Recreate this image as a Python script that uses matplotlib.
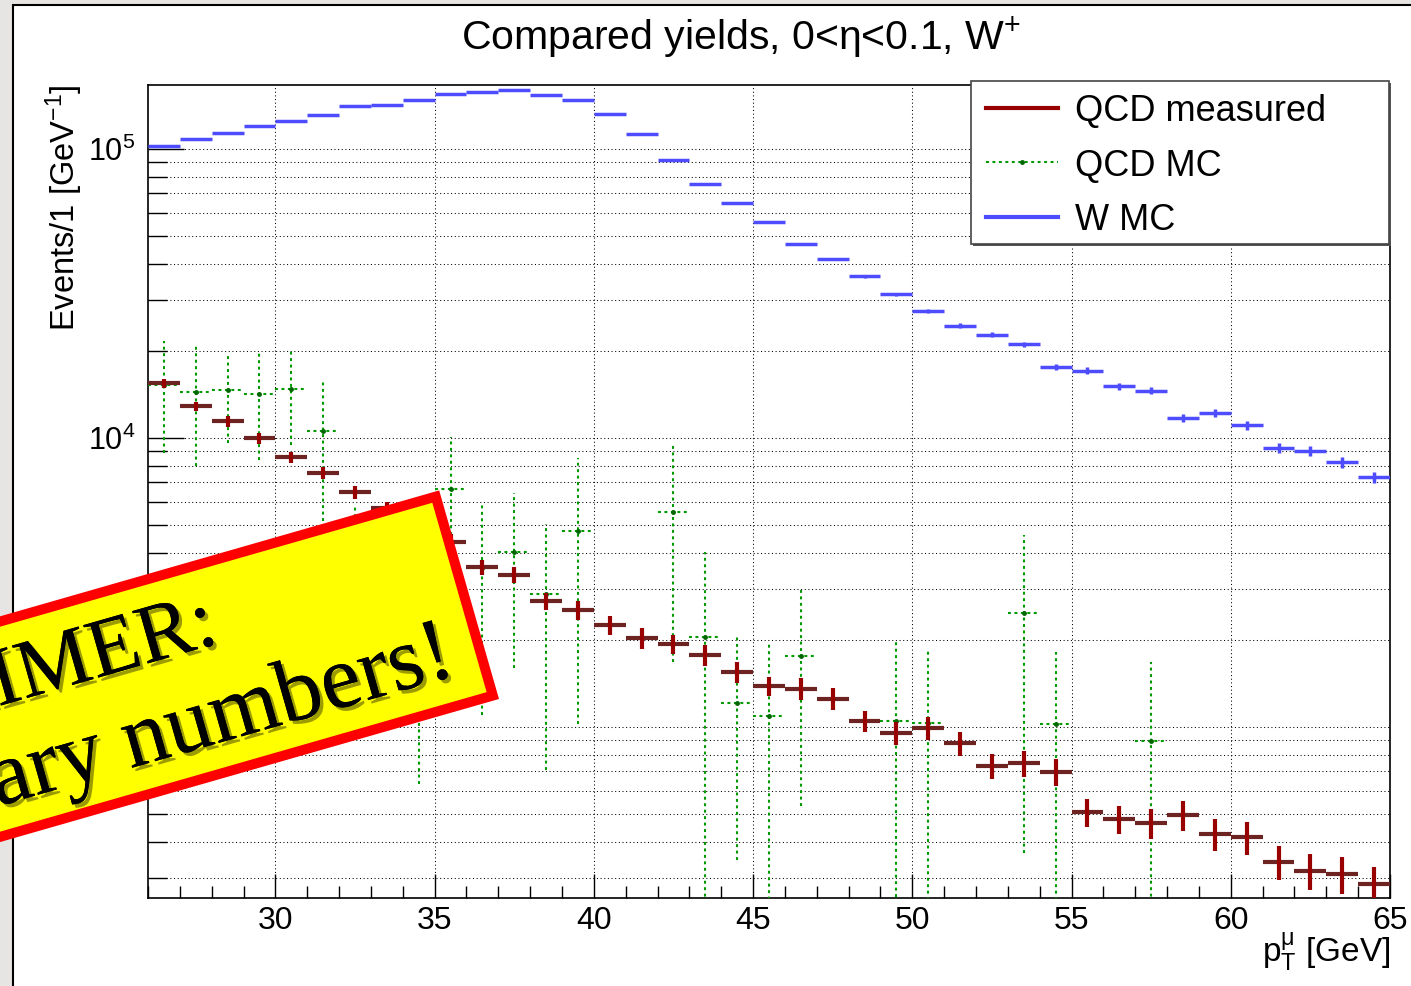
import matplotlib

matplotlib.use("Agg")
import matplotlib.patheffects as pe
import matplotlib.pyplot as plt
import numpy as np
from matplotlib.lines import Line2D
from matplotlib.patches import Rectangle
from matplotlib.ticker import LogLocator, MultipleLocator, NullFormatter
from matplotlib.transforms import Affine2D

# ============================================================================
# Data (bin centres in GeV, 1 GeV bins)
# ============================================================================

pt_centers = [
    26.5, 27.5, 28.5, 29.5, 30.5, 31.5, 32.5, 33.5, 34.5, 35.5,
    36.5, 37.5, 38.5, 39.5, 40.5, 41.5, 42.5, 43.5, 44.5, 45.5,
    46.5, 47.5, 48.5, 49.5, 50.5, 51.5, 52.5, 53.5, 54.5, 55.5,
    56.5, 57.5, 58.5, 59.5, 60.5, 61.5, 62.5, 63.5, 64.5,
]

qcd_measured = [
    15440, 12850, 11370, 9955, 8550, 7530, 6470, 5690, 4950, 4360,
    3554, 3345, 2716, 2527, 2249, 2023, 1923, 1766, 1545, 1378,
    1353, 1248, 1044, 948, 990, 876, 730, 747, 695, 505,
    478, 463, 495, 425, 414, 341, 317, 309, 285,
]
qcd_measured_err = [
    539, 470, 482, 447, 369, 370, 318, 303, 285, 269,
    213, 212, 184, 184, 173, 163, 143, 144, 126, 106,
    115, 109, 89, 87, 93, 84, 73, 76, 74, 57,
    54, 56, 59, 55, 54, 46, 45, 45, 41,
]

nan = np.nan
qcd_mc = [
    15190, 14400, 14550, 14150, 14720, 10550, 3700, 3500, 2800, 6620,
    3525, 4020, 2865, 4760, nan, nan, 5530, 2040, 1205, 1090,
    1750, nan, nan, 1047, 1031, nan, nan, 2475, 1019, nan,
    nan, 893, nan, nan, nan, nan, nan, nan, nan,
]
qcd_mc_err = [
    6360, 6450, 4990, 5780, 5300, 5390, 2150, 2500, 2165, 3410,
    2430, 2420, 2160, 3740, nan, nan, 3860, 1985, 860, 850,
    1220, nan, nan, 915, 805, nan, nan, 2110, 792, nan,
    nan, 780, nan, nan, nan, nan, nan, nan, nan,
]

w_mc = [
    102100, 107700, 113600, 119800, 125000, 131000, 140000, 142000, 147500, 154000,
    157000, 159000, 153000, 147000, 132000, 112400, 91000, 75600, 64800, 55600,
    46700, 41500, 36100, 31300, 27400, 24400, 22700, 21000, 17540, 17060,
    15070, 14520, 11730, 12210, 11040, 9230, 9020, 8220, 7290,
]
w_mc_err = [
    700, 800, 800, 900, 900, 1000, 1000, 1000, 1100, 1100,
    1100, 1200, 1200, 1200, 1100, 900, 700, 600, 520, 500,
    480, 470, 460, 450, 440, 440, 430, 430, 420, 420,
    410, 410, 380, 390, 380, 360, 360, 350, 340,
]

legend_labels = ["QCD measured", "QCD MC", "W MC"]

BIN_HALF = 0.5

RED = "#990000"
RED_DARK = "#6e2323"
GREEN = "#009900"
GREEN_DOT = "#006600"
BLUE = "#4d4dff"
DOTS = (0, (1.4, 1.7))

W_PX, H_PX = 1411, 986

plt.rcParams["font.family"] = ["Liberation Sans", "DejaVu Sans"]
plt.rcParams["mathtext.fontset"] = "custom"
plt.rcParams["mathtext.rm"] = "Liberation Sans"
plt.rcParams["mathtext.it"] = "Liberation Sans:italic"
plt.rcParams["mathtext.default"] = "regular"


def px_to_fig(x, y):
    return x / W_PX, 1 - y / H_PX


if __name__ == "__main__":
    fig = plt.figure(figsize=(W_PX / 100, H_PX / 100), dpi=100)
    fig.patch.set_facecolor("#e7e5e3")

    # canvas (white pad with black frame, like a ROOT canvas screenshot)
    fig.add_artist(
        Rectangle(
            (13 / W_PX, -0.1), 1.2, 1.1 - 5 / H_PX,
            transform=fig.transFigure, facecolor="white",
            edgecolor="black", linewidth=1.5, zorder=-5,
        )
    )

    left, top = px_to_fig(148, 85)
    right, bottom = px_to_fig(1390, 898)
    ax = fig.add_axes([left, bottom, right - left, top - bottom])

    # W MC
    ax.errorbar(
        pt_centers, w_mc, xerr=BIN_HALF, yerr=w_mc_err, fmt="none",
        ecolor=BLUE, elinewidth=2.5, capsize=0, zorder=4,
    )

    # QCD MC, dotted error bars
    eb = ax.errorbar(
        pt_centers, qcd_mc, xerr=BIN_HALF, yerr=qcd_mc_err, fmt="o",
        color=GREEN_DOT, markersize=2.5, ecolor=GREEN, elinewidth=1.5,
        capsize=0, zorder=5,
    )
    for coll in eb[2]:
        coll.set_linestyle(DOTS)

    # QCD measured
    ax.errorbar(
        pt_centers, qcd_measured, xerr=BIN_HALF, fmt="none",
        ecolor=RED_DARK, elinewidth=3, capsize=0, zorder=6,
    )
    ax.errorbar(
        pt_centers, qcd_measured, yerr=qcd_measured_err, fmt="none",
        ecolor=RED, elinewidth=3, capsize=0, zorder=6,
    )

    ax.set_yscale("log")
    ax.set_xlim(26, 65)
    ax.set_ylim(255, 1.66e5)

    ax.xaxis.set_major_locator(MultipleLocator(5))
    ax.xaxis.set_minor_locator(MultipleLocator(1))
    ax.yaxis.set_major_locator(LogLocator(base=10, numticks=10))
    ax.yaxis.set_minor_locator(LogLocator(base=10, subs=np.arange(2, 10), numticks=20))
    ax.yaxis.set_minor_formatter(NullFormatter())

    ax.tick_params(axis="x", which="major", direction="in", length=17, width=1,
                   labelsize=23, pad=6, top=False)
    ax.tick_params(axis="x", which="minor", direction="in", length=8.5, width=1, top=False)
    ax.tick_params(axis="y", which="major", direction="in", length=26, width=1,
                   labelsize=22, pad=9, right=False)
    ax.tick_params(axis="y", which="minor", direction="in", length=14, width=1, right=False)

    grid_style = dict(color="black", linestyle=(0, (1, 2.5)), linewidth=0.75)
    ax.grid(True, axis="x", which="major", **grid_style)
    ax.grid(True, axis="y", which="both", **grid_style)
    ax.set_axisbelow(True)
    for sp in ax.spines.values():
        sp.set_linewidth(1.2)

    ax.set_xlabel(r"p$_{T}^{\mu}$ [GeV]", fontsize=24, loc="right")
    ax.xaxis.set_label_coords(1.0, -0.041)
    ax.set_ylabel(r"Events/1 [GeV$^{-1}$]", fontsize=23.5, loc="top")
    ax.yaxis.set_label_coords(-0.051, 1.0)

    tx, ty = px_to_fig(741, 50)
    fig.text(tx, ty, r"Compared yields, 0<η<0.1, W$^{+}$", fontsize=29.5,
             ha="center", va="baseline")

    # legend box drawn in canvas pixels, ROOT style
    px_tr = Affine2D().scale(1 / W_PX, 1 / H_PX) + fig.transFigure
    fig.add_artist(Rectangle((973, H_PX - 246), 418, 163, transform=px_tr,
                             facecolor="#555555", edgecolor="none", zorder=7))
    fig.add_artist(Rectangle((971, H_PX - 244), 418, 163, transform=px_tr,
                             facecolor="white", edgecolor="#444444",
                             linewidth=1.2, zorder=7.5))
    entry_styles = [
        dict(color=RED, lw=3),
        dict(color=GREEN, lw=1.5, linestyle=DOTS),
        dict(color=BLUE, lw=3),
    ]
    for i, (label, style) in enumerate(zip(legend_labels, entry_styles)):
        yc = H_PX - (107.7 + 54.5 * i)
        fig.add_artist(Line2D([986, 1058], [yc, yc], transform=px_tr, zorder=8, **style))
        fig.text(1075, yc, label, transform=px_tr, fontsize=26, ha="left",
                 va="center_baseline", zorder=8)
    fig.add_artist(Line2D([1022], [H_PX - 162.2], transform=px_tr, marker="o",
                          markersize=2.5, color=GREEN_DOT, zorder=8))

    # DISCLAIMER banner, rotated, cut by the left edge
    banner_tr = (
        Affine2D().rotate_deg(16).translate(499, H_PX - 699).scale(1 / W_PX, 1 / H_PX)
        + fig.transFigure
    )
    fig.add_artist(
        Rectangle(
            (-1100, 5), 1095, 207, transform=banner_tr, facecolor="#ffff00",
            edgecolor="#ff0000", linewidth=7.2, joinstyle="miter", zorder=20,
        )
    )
    shadow = [
        pe.withSimplePatchShadow(offset=(2.5, -2.5), shadow_rgbFace="#3a3a00", alpha=0.5),
        pe.Normal(),
    ]
    for label, u, v, size in [("DISCLAIMER:", -252, 131, 60),
                              ("preliminary numbers!", -33, 35, 65)]:
        t = fig.text(u, v, label, transform=banner_tr, rotation=16,
                     rotation_mode="anchor", ha="right", va="baseline",
                     fontsize=size, family="Liberation Serif", color="black",
                     zorder=21)
        t.set_path_effects(shadow)

    fig.savefig("out.png", dpi=100)
